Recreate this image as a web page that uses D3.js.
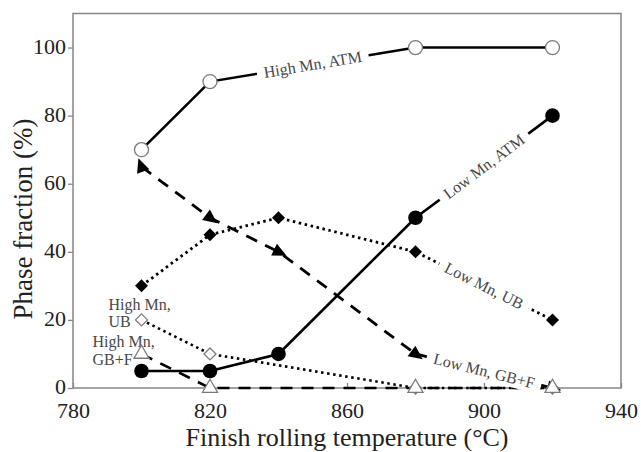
<!DOCTYPE html>
<html>
<head>
<meta charset="utf-8">
<script src="https://cdn.jsdelivr.net/npm/d3@7/dist/d3.min.js"></script>
<style>
  html, body { margin: 0; padding: 0; background: #fff; }
  svg { display: block; font-family: "Liberation Serif", "Times New Roman", serif; }
</style>
</head>
<body>
<svg id="chart" width="641" height="452"></svg>
<script>
// Phase fraction (%) against finish rolling temperature (°C)
const xTicks = [780, 820, 860, 900, 940];
const yTicks = [0, 20, 40, 60, 80, 100];

const highMnATM = [{t: 800, v: 70}, {t: 820, v: 90}, {t: 880, v: 100}, {t: 920, v: 100}];
const lowMnATM  = [{t: 800, v: 5}, {t: 820, v: 5}, {t: 840, v: 10}, {t: 880, v: 50}, {t: 920, v: 80}];
const lowMnUB   = [{t: 800, v: 30}, {t: 820, v: 45}, {t: 840, v: 50}, {t: 880, v: 40}, {t: 920, v: 20}];
const lowMnGBF  = [{t: 800, v: 65}, {t: 820, v: 50}, {t: 840, v: 40}, {t: 880, v: 10}, {t: 920, v: 0}];
const highMnUB  = [{t: 800, v: 20}, {t: 820, v: 10}, {t: 880, v: 0}, {t: 920, v: 0}];
const highMnGBF = [{t: 800, v: 10}, {t: 820, v: 0}, {t: 880, v: 0}, {t: 920, v: 0}];

// in-line labels: text placed on segment [seg, seg+1] of a series
const inlineLabels = [
  {series: highMnATM, seg: 1, text: "High Mn, ATM"},
  {series: lowMnATM,  seg: 3, text: "Low Mn, ATM"},
  {series: lowMnUB,   seg: 3, text: "Low Mn, UB"},
  {series: lowMnGBF,  seg: 3, text: "Low Mn, GB+F"}
];

const svg = d3.select("#chart");
const W = 641, H = 452;
const m = {left: 73, right: 20, top: 13.5, bottom: 64};

const x = d3.scaleLinear().domain([780, 940]).range([m.left, W - m.right]);
const y = d3.scaleLinear().domain([0, 110]).range([H - m.bottom, m.top]);

const frameColor = "#858585";

// axes
const gx = svg.append("g")
  .attr("transform", `translate(0,${y(0)})`)
  .call(d3.axisBottom(x).tickValues(xTicks).tickSize(-5).tickSizeOuter(0).tickPadding(14.5));
const gy = svg.append("g")
  .attr("transform", `translate(${x(780)},0)`)
  .call(d3.axisLeft(y).tickValues(yTicks).tickSize(5).tickSizeOuter(0).tickPadding(2));
gy.selectAll(".tick text").attr("dy", "0.26em");
[gx, gy].forEach(g => {
  g.select(".domain").remove();
  g.selectAll(".tick line").attr("stroke", frameColor).attr("stroke-width", 1.3);
  g.selectAll(".tick text").attr("fill", "#222").style("font-size", "22px")
    .style("font-family", "'Liberation Serif', 'Times New Roman', serif");
});

// plot frame
svg.append("rect")
  .attr("x", x(780)).attr("y", y(110))
  .attr("width", x(940) - x(780)).attr("height", y(0) - y(110))
  .attr("fill", "none").attr("stroke", frameColor).attr("stroke-width", 1.5);

// axis titles
svg.append("text")
  .attr("x", (x(780) + x(940)) / 2).attr("y", 446.3)
  .attr("text-anchor", "middle").attr("fill", "#222")
  .style("font-size", "26px")
  .text("Finish rolling temperature (°C)");
svg.append("text")
  .attr("transform", `translate(32,219) rotate(-90)`)
  .attr("text-anchor", "middle").attr("fill", "#222")
  .style("font-size", "27px")
  .text("Phase fraction (%)");

// lines
const line = d3.line().x(d => x(d.t)).y(d => y(d.v));
const linesG = svg.append("g").attr("fill", "none").attr("stroke", "#000");
const styles = [
  {data: highMnUB,  dash: "2.5,3.6", w: 2.6},
  {data: highMnGBF, dash: "12,9",    w: 2.6},
  {data: lowMnUB,   dash: "2.5,3.6", w: 2.8},
  {data: lowMnGBF,  dash: "12,9",    w: 2.8},
  {data: highMnATM, dash: null,      w: 2.6},
  {data: lowMnATM,  dash: null,      w: 2.6}
];
styles.forEach(s => {
  linesG.append("path").datum(s.data)
    .attr("d", line)
    .attr("stroke-width", s.w)
    .attr("stroke-dasharray", s.dash);
});

// in-line labels with a white backing that breaks the line
const labelsG = svg.append("g");
inlineLabels.forEach(l => {
  const a = l.series[l.seg], b = l.series[l.seg + 1];
  const x1 = x(a.t), y1 = y(a.v), x2 = x(b.t), y2 = y(b.v);
  const ang = Math.atan2(y2 - y1, x2 - x1) * 180 / Math.PI;
  const g = labelsG.append("g")
    .attr("transform", `translate(${(x1 + x2) / 2},${(y1 + y2) / 2}) rotate(${ang})`);
  const rect = g.append("rect").attr("fill", "#fff");
  const t = g.append("text")
    .attr("text-anchor", "middle").attr("dy", "0.33em")
    .attr("fill", "#484848").style("font-size", "16px")
    .text(l.text);
  const bb = t.node().getBBox();
  rect.attr("x", bb.x - 7).attr("y", bb.y - 1).attr("width", bb.width + 14).attr("height", bb.height + 2);
});

// side labels for the high-Mn bainite / ferrite curves
const sideG = svg.append("g").attr("fill", "#484848").style("font-size", "16px");
const ubFirst = highMnUB[0], gbFirst = highMnGBF[0];
const ubLab = sideG.append("text").attr("x", x(ubFirst.t) - 33).attr("y", y(ubFirst.v) - 10);
ubLab.append("tspan").text("High Mn,");
ubLab.append("tspan").attr("x", x(ubFirst.t) - 33).attr("dy", 17).text("UB");
const gbLab = sideG.append("text").attr("x", x(gbFirst.t) - 49).attr("y", y(gbFirst.v) - 7);
gbLab.append("tspan").text("High Mn,");
gbLab.append("tspan").attr("x", x(gbFirst.t) - 49).attr("dy", 18).text("GB+F");

// markers
const mk = svg.append("g");
const openStroke = "#7a7a7a";

// Low Mn GB+F: filled arrowheads following the curve
const arrow = "M0,-9L6.5,5L-6.5,5Z";
lowMnGBF.forEach((d, i) => {
  let rot = -20;
  if (i > 0) {
    const p = lowMnGBF[i - 1];
    rot = Math.atan2(y(d.v) - y(p.v), x(d.t) - x(p.t)) * 180 / Math.PI + 90;
  }
  mk.append("path").attr("d", arrow)
    .attr("transform", `translate(${x(d.t)},${y(d.v)}) rotate(${rot})`)
    .attr("fill", "#000");
});

// Low Mn UB: filled diamonds
const diamond = r => `M0,${-r}L${r},0L0,${r}L${-r},0Z`;
lowMnUB.forEach(d => {
  mk.append("path").attr("d", diamond(6.5))
    .attr("transform", `translate(${x(d.t)},${y(d.v)})`).attr("fill", "#000");
});

// High Mn UB: open diamonds
highMnUB.forEach(d => {
  mk.append("path").attr("d", diamond(6))
    .attr("transform", `translate(${x(d.t)},${y(d.v)})`)
    .attr("fill", "#fff").attr("stroke", openStroke).attr("stroke-width", 1.3);
});

// High Mn GB+F: open triangles
const tri = "M0,-8.7L7.5,4.3L-7.5,4.3Z";
highMnGBF.forEach(d => {
  mk.append("path").attr("d", tri)
    .attr("transform", `translate(${x(d.t)},${y(d.v)})`)
    .attr("fill", "#fff").attr("stroke", openStroke).attr("stroke-width", 1.3);
});

// Low Mn ATM: filled circles
lowMnATM.forEach(d => {
  mk.append("circle").attr("cx", x(d.t)).attr("cy", y(d.v)).attr("r", 7.3).attr("fill", "#000");
});

// High Mn ATM: open circles
highMnATM.forEach(d => {
  mk.append("circle").attr("cx", x(d.t)).attr("cy", y(d.v)).attr("r", 7)
    .attr("fill", "#fff").attr("stroke", openStroke).attr("stroke-width", 1.3);
});
</script>
</body>
</html>
